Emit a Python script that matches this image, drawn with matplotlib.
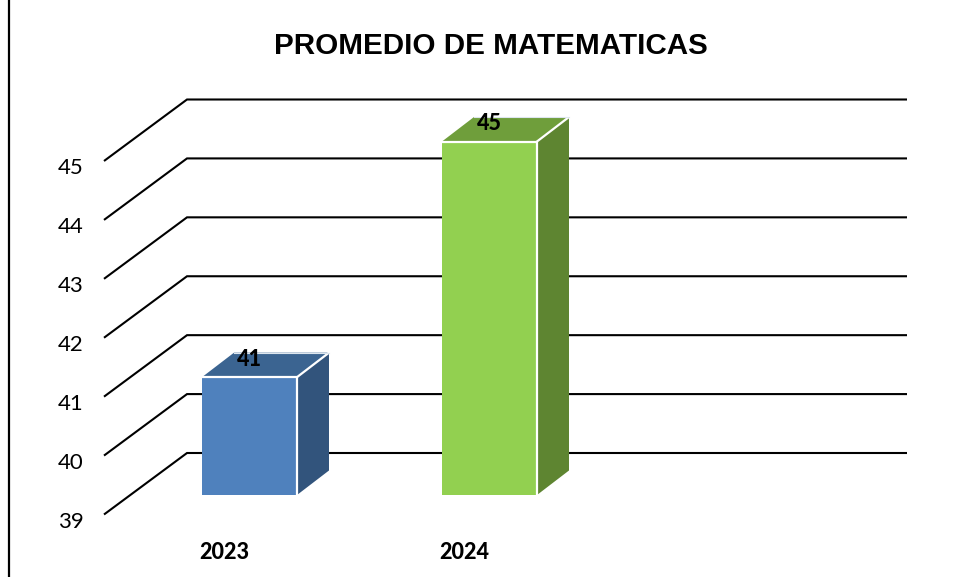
import matplotlib
matplotlib.use("Agg")
import matplotlib.pyplot as plt
from matplotlib.patches import Polygon
from matplotlib.lines import Line2D

categories = ["2023", "2024"]
values = [41, 45]
y_ticks = [39, 40, 41, 42, 43, 44, 45]
title = "PROMEDIO DE MATEMATICAS"
front_colors = ["#4F81BD", "#92D050"]
top_colors = ["#3B6491", "#6F9E3B"]
side_colors = ["#32547C", "#5E8531"]

W, H = 956, 577
fig = plt.figure(figsize=(W / 100, H / 100), dpi=100)
L, R, T, B = 104, 824, 161, 514.5
ax = fig.add_axes([L / W, 1 - B / H, (R - L) / W, (B - T) / H])
ax.set_xlim(-0.5, 2.5)
ax.set_ylim(39, 45)
ax.axis("off")

PX = 3 / (R - L)          # data units per horizontal pixel
PY = 6 / (B - T)          # data units per vertical pixel
DX, DY = 83 * PX, 61.5 * PY   # full depth of the floor
BAR_W = 95 * PX
D0X, D0Y = 25.5 * PX, 19.5 * PY   # bar front inset
D1X, D1Y = 32 * PX, 24.5 * PY   # bar depth

# gridlines: diagonal on the side wall and straight along the back wall
for v in y_ticks:
    ax.plot([-0.5, -0.5 + DX, 2.5 + DX], [v, v + DY, v + DY], color="black",
            lw=1.5, clip_on=False, zorder=1, solid_joinstyle="miter", solid_capstyle="butt")
    ax.text(-0.5 - 33.5 * PX, v - 7.5 * PY, str(v), ha="center", va="center", fontsize=16,
            family="Lato", color="black", clip_on=False)

# bars
for i, (cat, val) in enumerate(zip(categories, values)):
    x0 = i - BAR_W / 2 + D0X
    x1 = x0 + BAR_W
    y0 = 39 + D0Y
    y1 = val + D0Y
    ax.add_patch(Polygon([(x0, y1), (x1, y1), (x1 + D1X, y1 + D1Y), (x0 + D1X, y1 + D1Y)],
                         fc=top_colors[i], ec="none", zorder=3, clip_on=False))
    ax.add_patch(Polygon([(x1, y0), (x1 + D1X, y0 + D1Y), (x1 + D1X, y1 + D1Y), (x1, y1)],
                         fc=side_colors[i], ec="none", zorder=3, clip_on=False))
    ax.add_patch(Polygon([(x0, y0), (x1, y0), (x1, y1), (x0, y1)],
                         fc=front_colors[i], ec="none", zorder=3, clip_on=False))
    ax.plot([x0, x1, x1], [y1, y1, y0], color="white", lw=1.6, zorder=4, clip_on=False)
    ax.plot([x1, x1 + D1X], [y1, y1 + D1Y], color="white", lw=1.6, zorder=4, clip_on=False)
    ax.plot([x0 + D1X, x1 + D1X], [y1 + D1Y, y1 + D1Y],
            color="#DDE6EE", lw=0.8, zorder=4, clip_on=False)
    # value label
    ax.text(x0 + BAR_W / 2, y1 + 18 * PY, str(val), ha="center", va="center", fontsize=15.5,
            family="Lato", weight=900, color="black", zorder=5, clip_on=False)
    # category label
    ax.text(i, 39 - 38 * PY, cat, ha="center", va="center", fontsize=15.5,
            family="Lato", weight=900, color="black", clip_on=False)

fig.text(491 / W, 1 - 46 / H, title, ha="center", va="center", fontsize=21.3,
         family="Liberation Sans", weight="bold", color="black")
fig.add_artist(Line2D([9 / W, 9 / W], [0, 1], color="black", lw=1.6))

fig.savefig("out.png", dpi=100, facecolor="white")
